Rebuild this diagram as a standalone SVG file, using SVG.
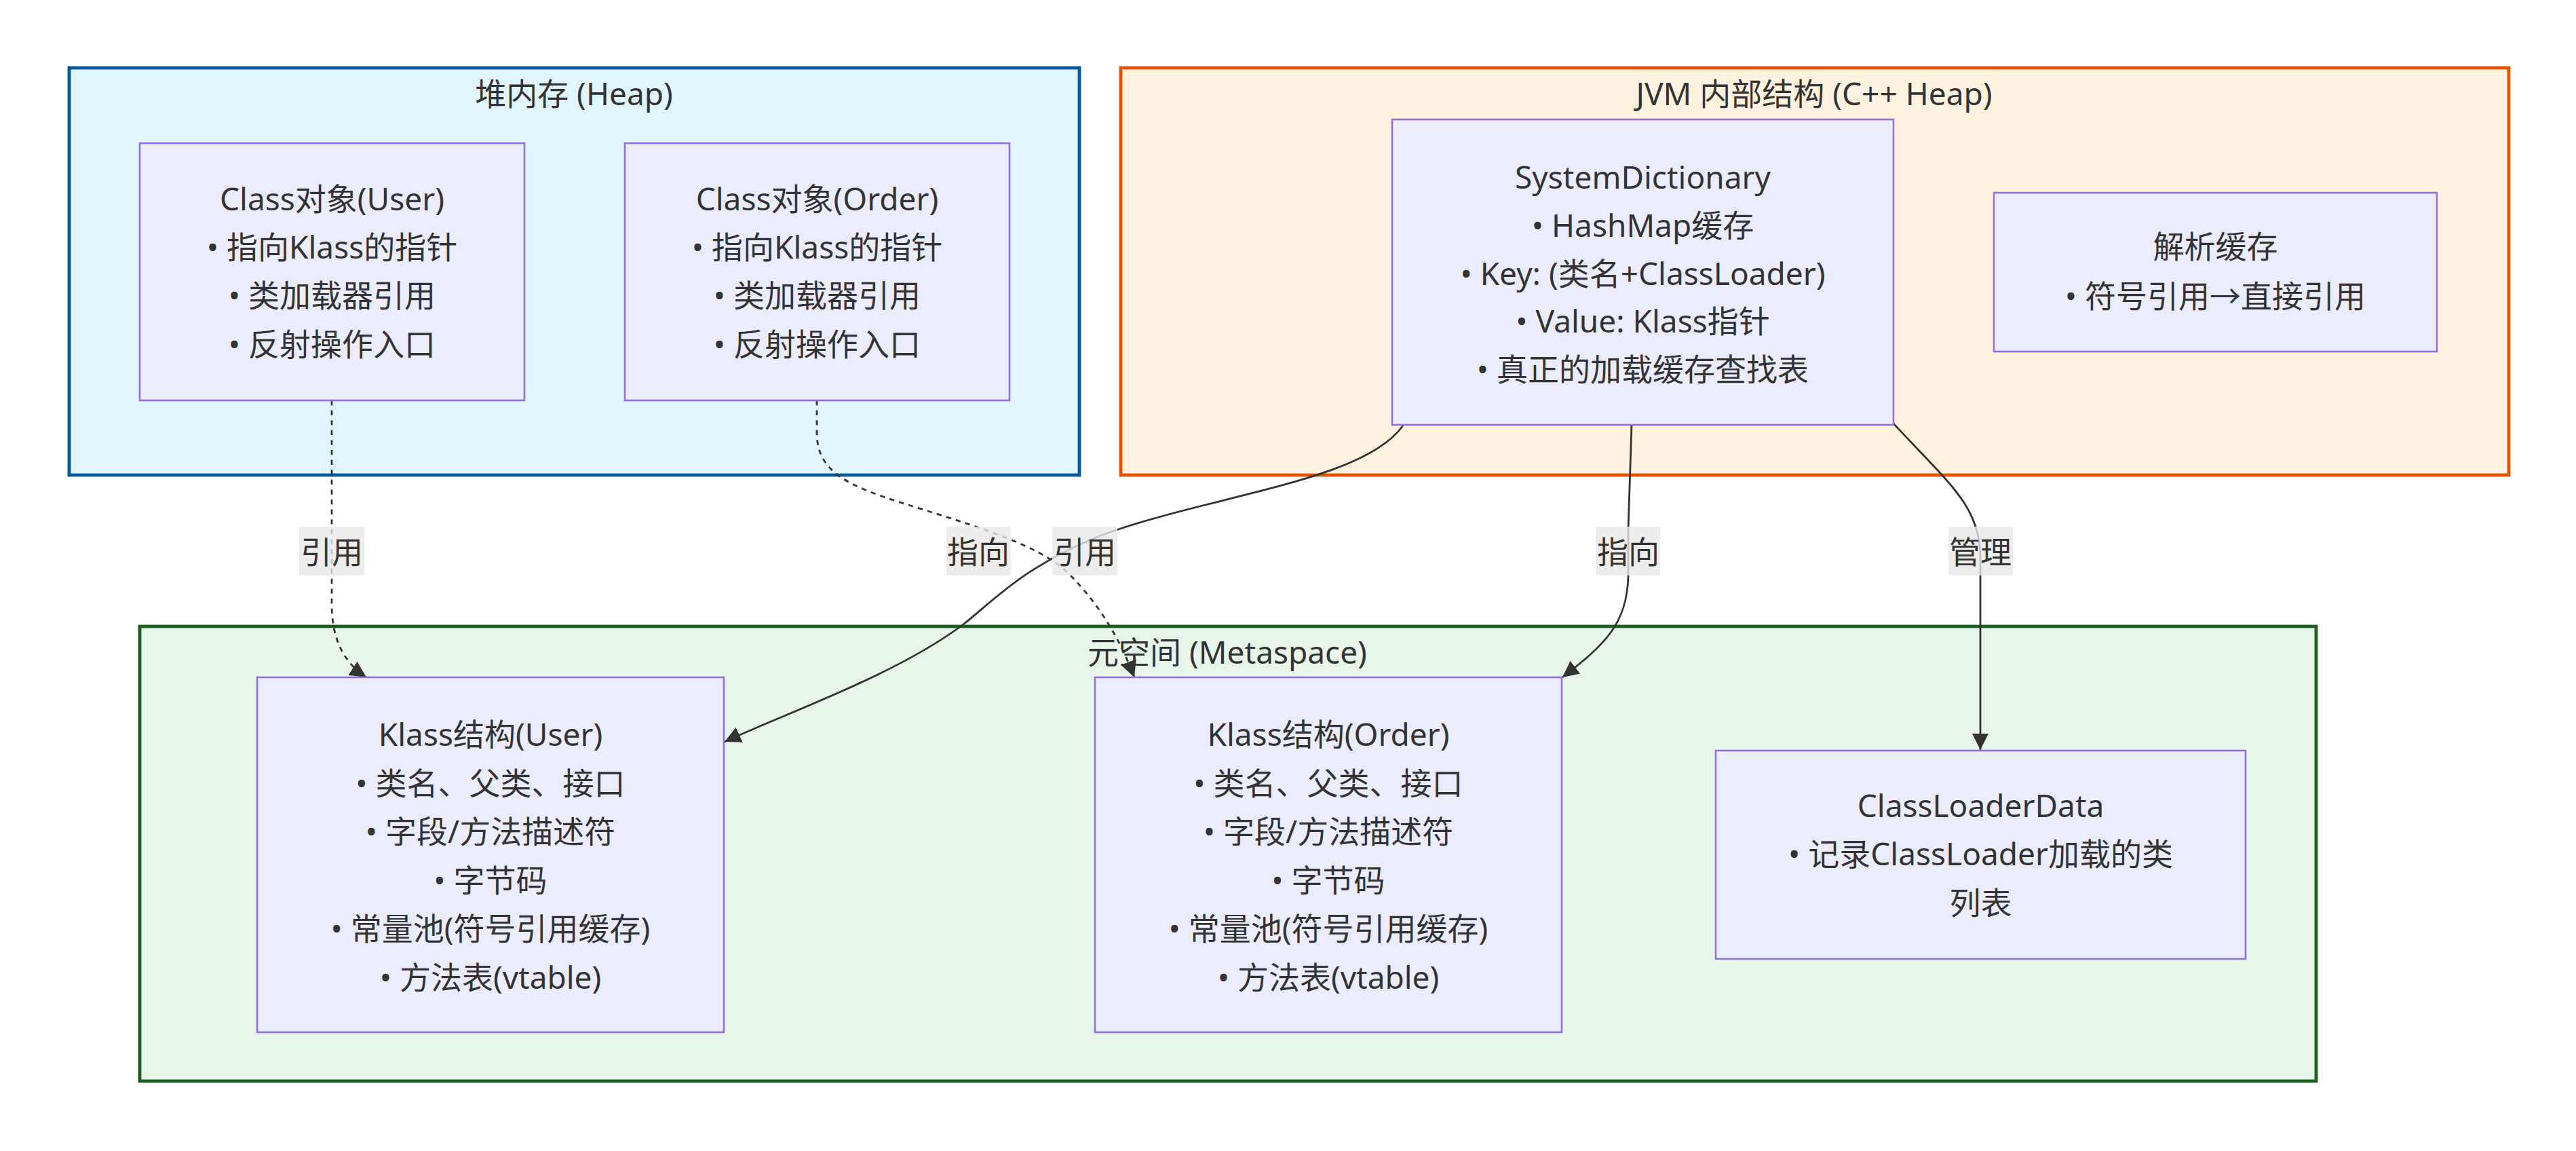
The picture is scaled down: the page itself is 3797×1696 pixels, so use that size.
<svg xmlns="http://www.w3.org/2000/svg" width="3797" height="1696" viewBox="0 0 3797 1696">
<style>
text{font-family:"Noto Sans","Noto Sans CJK SC",sans-serif;font-size:46px;fill:#333;text-anchor:middle;dominant-baseline:central}
.node{fill:#ECECFF;stroke:#9370DB;stroke-width:2.6}
.edge{fill:none;stroke:#333;stroke-width:2.8}
.dot{stroke-dasharray:7.3 7.3}
.lbl{fill:#e8e8e8;fill-opacity:0.8}
</style>
<defs>
<marker id="arr" viewBox="0 0 10 10" refX="10" refY="5" markerUnits="userSpaceOnUse" markerWidth="24" markerHeight="24" orient="auto">
<path d="M0,0 L10,5 L0,10 z" fill="#333"/>
</marker>
</defs>
<rect width="3797" height="1696" fill="#fff"/>
<g id="clusters">
<g id="heap"><rect x="102" y="100" width="1489" height="600" fill="#e1f5fe" stroke="#01579b" stroke-width="4.8"/><text x="846" y="137">堆内存 (Heap)</text></g>
<g id="jvm"><rect x="1652" y="100" width="2046" height="600" fill="#fff3e0" stroke="#e65100" stroke-width="4.8"/><text x="2674" y="137">JVM 内部结构 (C++ Heap)</text></g>
<g id="metaspace"><rect x="206" y="923" width="3208" height="670" fill="#e8f5e9" stroke="#1b5e20" stroke-width="4.8"/><text x="1809" y="960">元空间 (Metaspace)</text></g>
</g>
<g id="connectors">
<path class="edge dot" d="M489,590 L489,890 C489,940 505,975 540,998" marker-end="url(#arr)"/>
<path class="edge dot" d="M1204,590 L1204,637 C1204,690 1240,712 1320,738 C1420,770 1530,800 1575,845 C1620,890 1650,940 1672,998" marker-end="url(#arr)"/>
<path class="edge" d="M2068,627 C2010,710 1780,730 1620,790 C1510,835 1470,880 1420,920 C1320,995 1160,1050 1068,1093" marker-end="url(#arr)"/>
<path class="edge" d="M2405,626 L2400,780 L2400,850 C2398,920 2365,950 2303,998" marker-end="url(#arr)"/>
<path class="edge" d="M2791,624 C2870,710 2919,745 2919,820 L2919,1105" marker-end="url(#arr)"/>
<g id="labels">
<rect class="lbl" x="441" y="776" width="96" height="72"/><text x="489" y="812">引用</text>
<rect class="lbl" x="1551" y="776" width="96" height="72"/><text x="1599" y="812">引用</text>
<rect class="lbl" x="1395" y="776" width="95" height="72"/><text x="1442" y="812">指向</text>
<rect class="lbl" x="2352" y="776" width="95" height="72"/><text x="2400" y="812">指向</text>
<rect class="lbl" x="2872" y="776" width="95" height="72"/><text x="2919" y="812">管理</text>
</g>
</g>
<g id="classUser"><rect class="node" x="206" y="211" width="567" height="379"/>
<text x="489.5" y="292">Class对象(User)</text><text x="489.5" y="363">• 指向Klass的指针</text><text x="489.5" y="434">• 类加载器引用</text><text x="489.5" y="506">• 反射操作入口</text></g>
<g id="classOrder"><rect class="node" x="921" y="211" width="567" height="379"/>
<text x="1204.5" y="292">Class对象(Order)</text><text x="1204.5" y="363">• 指向Klass的指针</text><text x="1204.5" y="434">• 类加载器引用</text><text x="1204.5" y="506">• 反射操作入口</text></g>
<g id="systemDictionary"><rect class="node" x="2052" y="176" width="739" height="450"/>
<text x="2421.5" y="260">SystemDictionary</text><text x="2421.5" y="331">• HashMap缓存</text><text x="2421.5" y="402">• Key: (类名+ClassLoader)</text><text x="2421.5" y="472">• Value: Klass指针</text><text x="2421.5" y="543">• 真正的加载缓存查找表</text></g>
<g id="resolveCache"><rect class="node" x="2939" y="284" width="653" height="234"/>
<text x="3265.5" y="362">解析缓存</text><text x="3265.5" y="435">• 符号引用→直接引用</text></g>
<g id="klassUser"><rect class="node" x="379" y="998" width="688" height="523"/>
<text x="723" y="1081">Klass结构(User)</text><text x="723" y="1153">• 类名、父类、接口</text><text x="723" y="1224">• 字段/方法描述符</text><text x="723" y="1296">• 字节码</text><text x="723" y="1367">• 常量池(符号引用缓存)</text><text x="723" y="1439">• 方法表(vtable)</text></g>
<g id="klassOrder"><rect class="node" x="1614" y="998" width="688" height="523"/>
<text x="1958" y="1081">Klass结构(Order)</text><text x="1958" y="1153">• 类名、父类、接口</text><text x="1958" y="1224">• 字段/方法描述符</text><text x="1958" y="1296">• 字节码</text><text x="1958" y="1367">• 常量池(符号引用缓存)</text><text x="1958" y="1439">• 方法表(vtable)</text></g>
<g id="classLoaderData"><rect class="node" x="2529" y="1106" width="781" height="307"/>
<text x="2919.5" y="1186">ClassLoaderData</text><text x="2919.5" y="1257">• 记录ClassLoader加载的类</text><text x="2919.5" y="1329">列表</text></g>
</svg>
